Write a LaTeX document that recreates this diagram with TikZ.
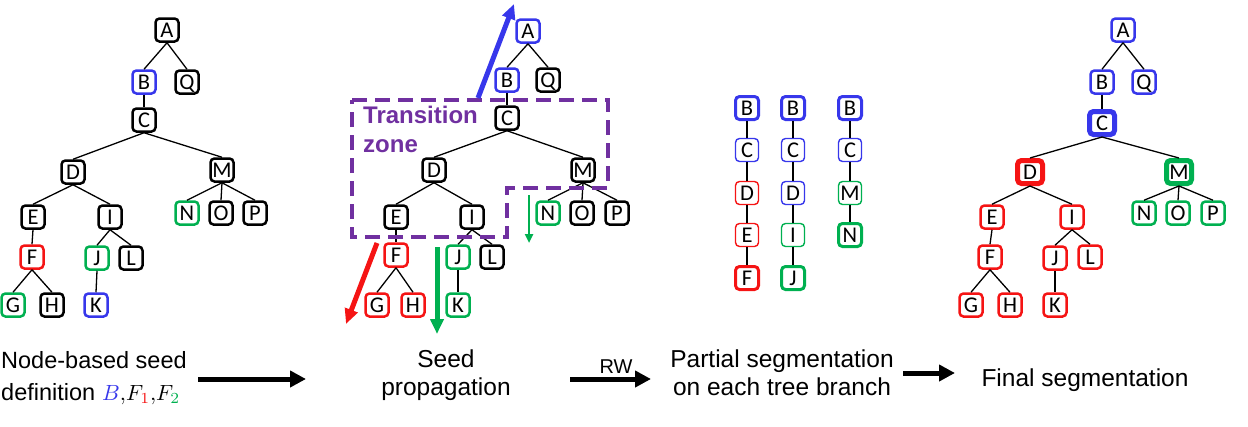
\documentclass[tikz,border=0pt]{standalone}
\usepackage{fontspec}
\setmainfont{Liberation Sans}
\newfontfamily\nodefont{Carlito}
\usetikzlibrary{arrows.meta}
\definecolor{cblue}{RGB}{55,55,235}
\definecolor{cred}{RGB}{245,20,20}
\definecolor{cgreen}{RGB}{0,176,80}
\definecolor{cpurple}{RGB}{112,48,160}
\tikzset{
  nd/.style={draw, rounded corners=4pt, minimum width=23pt, minimum height=23pt, inner sep=0pt,
    line width=2.5pt, font=\nodefont\fontsize{22.5}{22.5}\selectfont, text height=14.5pt, text depth=0pt},
  bk/.style={draw=black}, bl/.style={draw=cblue}, rd/.style={draw=cred}, gn/.style={draw=cgreen},
  thinbox/.style={line width=1.4pt},
  thickbox/.style={line width=3pt},
  heavybox/.style={line width=5pt, minimum width=25pt, minimum height=23pt},
  edge/.style={line width=1.3pt, draw=black},
  lbl/.style={font=\fontsize{24.5}{28}\selectfont, inner sep=0pt},
  bigarrow/.style={line width=5pt, -{Triangle[length=16pt,width=16pt]}},
  seedarrow/.style={line width=5pt, -{Triangle[length=15pt,width=13pt]}},
  zone/.style={draw=cpurple, line width=4pt, dash pattern=on 15pt off 8pt},
  zonetext/.style={text=cpurple, font=\bfseries\fontsize{24}{28}\selectfont, inner sep=0pt, anchor=base west}
}
\begin{document}
\begin{tikzpicture}[x=1pt,y=-1pt]
\useasboundingbox (0,0) rectangle (1248,426);

% ---------------- Tree 1 ----------------
\node[nd,bk] (aA) at (167,30) {A};
\node[nd,bl] (aB) at (144,82) {B};
\node[nd,bk] (aQ) at (187,82) {Q};
\node[nd,bk] (aC) at (144,120) {C};
\node[nd,bk] (aD) at (73,172) {D};
\node[nd,bk] (aM) at (222,170) {M};
\node[nd,bk] (aE) at (33,217) {E};
\node[nd,bk] (aI) at (110,217) {I};
\node[nd,gn] (aN) at (187,213) {N};
\node[nd,bk] (aO) at (221,213) {O};
\node[nd,bk] (aP) at (255,213) {P};
\node[nd,rd] (aF) at (32,257) {F};
\node[nd,gn] (aJ) at (97,258) {J};
\node[nd,bk] (aL) at (131,258) {L};
\node[nd,gn] (aG) at (13,305) {G};
\node[nd,bk] (aH) at (52,305) {H};
\node[nd,bl] (aK) at (96,305) {K};
\foreach \p/\c in {A/B,A/Q,B/C,C/D,C/M,D/E,D/I,M/N,M/O,M/P,E/F,I/J,I/L,F/G,F/H,J/K}
  \draw[edge] (a\p.south) -- (a\c.north);

% ---------------- Tree 2 ----------------
\node[nd,bl] (bA) at (528,31) {A};
\node[nd,bl] (bB) at (507,80) {B};
\node[nd,bk] (bQ) at (548,80) {Q};
\node[nd,bk] (bC) at (507,118) {C};
\node[nd,bk] (bD) at (434,170) {D};
\node[nd,bk] (bM) at (583,170) {M};
\node[nd,bk] (bE) at (396,217) {E};
\node[nd,bk] (bI) at (472,217) {I};
\node[nd,gn] (bN) at (548,213) {N};
\node[nd,bk] (bO) at (582,213) {O};
\node[nd,bk] (bP) at (617,213) {P};
\node[nd,rd] (bF) at (396,255) {F};
\node[nd,gn] (bJ) at (458,257) {J};
\node[nd,bk] (bL) at (492,257) {L};
\node[nd,rd] (bG) at (377,305) {G};
\node[nd,rd] (bH) at (413,305) {H};
\node[nd,gn] (bK) at (458,305) {K};
\foreach \p/\c in {A/B,A/Q,B/C,C/D,C/M,D/E,D/I,M/N,M/O,M/P,E/F,I/J,I/L,F/G,F/H,J/K}
  \draw[edge] (b\p.south) -- (b\c.north);

% transition zone
\coordinate (z1) at (352,100);
\coordinate (z2) at (608,100);
\coordinate (z3) at (608,188);
\coordinate (z4) at (507,188);
\coordinate (z5) at (507,237);
\coordinate (z6) at (352,237);
\draw[zone] (z1) -- (z2) -- (z3) -- (z4) -- (z5) -- (z6) -- cycle;
\node[zonetext] (tz1) at (363,123) {Transition};
\node[zonetext] (tz2) at (363,152) {zone};

% propagation arrows
\coordinate (pbS) at (478,98);  \coordinate (pbE) at (514,4);
\coordinate (prS) at (377,243); \coordinate (prE) at (346,324);
\coordinate (pgS) at (437,247); \coordinate (pgE) at (437,334);
\coordinate (psS) at (529,195); \coordinate (psE) at (529,243);
\draw[seedarrow, cblue] (pbS) -- (pbE);
\draw[seedarrow, cred] (prS) -- (prE);
\draw[seedarrow, cgreen] (pgS) -- (pgE);
\draw[line width=2.5pt, cgreen, -{Triangle[length=9pt,width=8pt]}] (psS) -- (psE);

% ---------------- Branches ----------------
\node[nd,bl,thickbox] (m1B) at (747,108) {B};
\node[nd,bl,thinbox]  (m1C) at (747,150) {C};
\node[nd,rd,thinbox]  (m1D) at (747,193) {D};
\node[nd,rd,thinbox]  (m1E) at (747,235) {E};
\node[nd,rd,thickbox] (m1F) at (747,278) {F};
\node[nd,bl,thickbox] (m2B) at (793,108) {B};
\node[nd,bl,thinbox]  (m2C) at (793,150) {C};
\node[nd,bl,thinbox]  (m2D) at (793,193) {D};
\node[nd,gn,thinbox]  (m2I) at (793,235) {I};
\node[nd,gn,thickbox] (m2J) at (793,278) {J};
\node[nd,bl,thickbox] (m3B) at (850,108) {B};
\node[nd,bl,thinbox]  (m3C) at (850,150) {C};
\node[nd,gn,thinbox]  (m3M) at (850,193) {M};
\node[nd,gn,thickbox] (m3N) at (850,235) {N};
\foreach \p/\c in {m1B/m1C,m1C/m1D,m1D/m1E,m1E/m1F,m2B/m2C,m2C/m2D,m2D/m2I,m2I/m2J,m3B/m3C,m3C/m3M,m3M/m3N}
  \draw[edge] (\p.south) -- (\c.north);

% ---------------- Tree 4 ----------------
\node[nd,bl] (dA) at (1123,30) {A};
\node[nd,bl] (dB) at (1102,82) {B};
\node[nd,bl] (dQ) at (1144,82) {Q};
\node[nd,bl,heavybox] (dC) at (1102,123) {C};
\node[nd,rd,heavybox] (dD) at (1030,172) {D};
\node[nd,gn,heavybox] (dM) at (1179,172) {M};
\node[nd,rd] (dE) at (992,217) {E};
\node[nd,rd] (dI) at (1072,217) {I};
\node[nd,gn] (dN) at (1144,213) {N};
\node[nd,gn] (dO) at (1178,213) {O};
\node[nd,gn] (dP) at (1213,213) {P};
\node[nd,rd] (dF) at (990,257) {F};
\node[nd,rd] (dJ) at (1055,258) {J};
\node[nd,rd] (dL) at (1090,257) {L};
\node[nd,rd] (dG) at (971,305) {G};
\node[nd,rd] (dH) at (1010,305) {H};
\node[nd,rd] (dK) at (1055,305) {K};
\foreach \p/\c in {A/B,A/Q,B/C,C/D,C/M,D/E,D/I,M/N,M/O,M/P,E/F,I/J,I/L,F/G,F/H,J/K}
  \draw[edge] (d\p.south) -- (d\c.north);

% ---------------- Bottom labels ----------------
\node[lbl, anchor=base west, font=\fontsize{23.5}{28}\selectfont] (l1a) at (1,368) {Node-based seed};
\node[lbl, anchor=base west, font=\fontsize{23.5}{28}\selectfont] (l1b) at (1,400) {definition};
\node[inner sep=0pt, anchor=base west] (l1m) at (102,400)
  {\scalebox{2.2}{$\textcolor{cblue}{B}{,}F_{\textcolor{cred}{1}}{,}F_{\textcolor{cgreen}{2}}$}};
\node[lbl, anchor=base] (l2a) at (446,367) {Seed};
\node[lbl, anchor=base] (l2b) at (446,395) {propagation};
\node[lbl, anchor=base] (l3a) at (782,367) {Partial segmentation};
\node[lbl, anchor=base] (l3b) at (782,395) {on each tree branch};
\node[lbl, anchor=base] (l4) at (1085,386) {Final segmentation};
\node[inner sep=0pt, anchor=base, font=\fontsize{20}{22}\selectfont] (rw) at (616,373) {RW};

\coordinate (ar1s) at (198,379); \coordinate (ar1e) at (306,379);
\coordinate (ar2s) at (570,379); \coordinate (ar2e) at (651,379);
\coordinate (ar3s) at (903,373); \coordinate (ar3e) at (955,373);
\draw[bigarrow] (ar1s) -- (ar1e);
\draw[bigarrow] (ar2s) -- (ar2e);
\draw[bigarrow] (ar3s) -- (ar3e);
\end{tikzpicture}
\end{document}
